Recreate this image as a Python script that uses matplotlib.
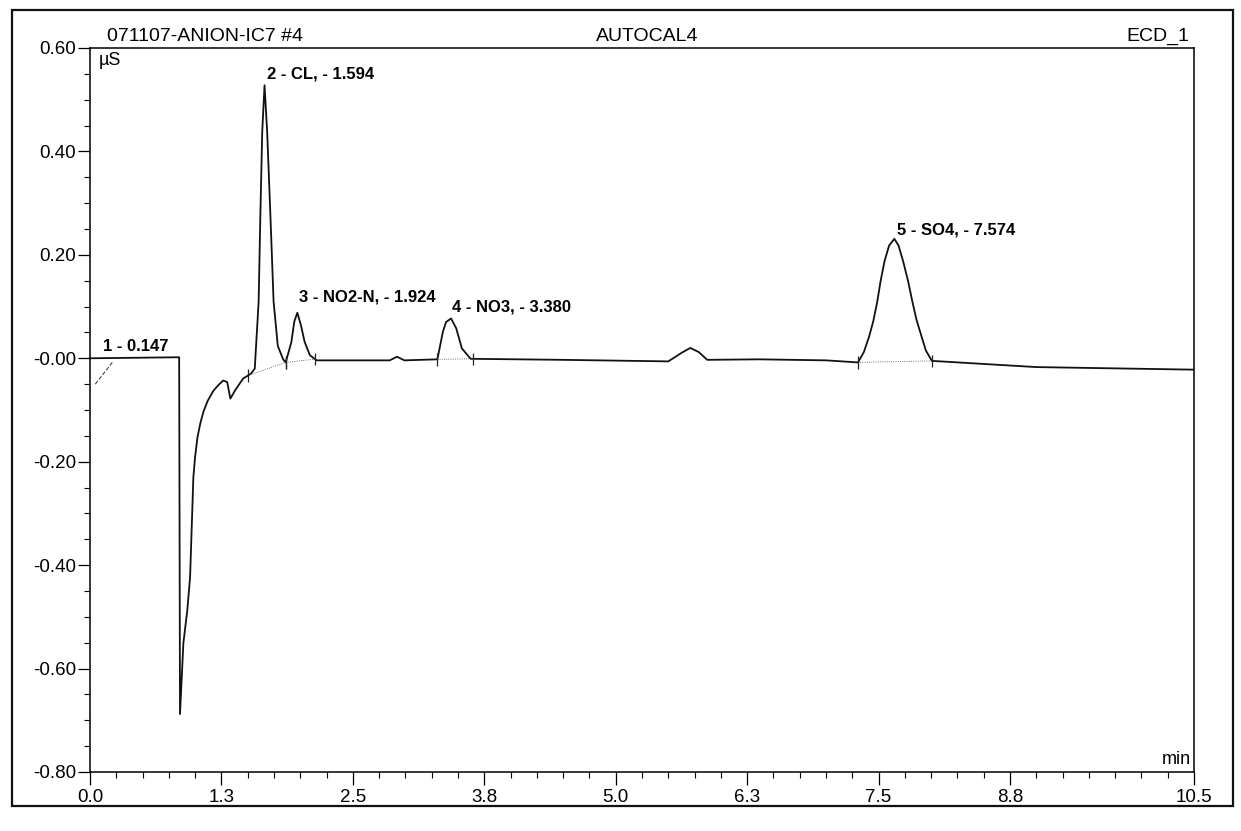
import numpy as np
import matplotlib
matplotlib.use("Agg")
from matplotlib import pyplot as plt
from matplotlib.patches import Rectangle
from matplotlib.ticker import FixedLocator, MultipleLocator

plt.rcParams['font.family'] = ['Liberation Sans', 'DejaVu Sans']

# chromatogram trace (min, µS)
time_min = [0.000, 0.848, 0.856, 0.888, 0.925, 0.952, 0.983, 1.000, 1.022, 1.050,
            1.081, 1.120, 1.173, 1.220, 1.267, 1.305, 1.335, 1.380, 1.457, 1.530,
            1.567, 1.604, 1.620, 1.638, 1.660, 1.685, 1.716, 1.746, 1.786, 1.837,
            1.861, 1.915, 1.943, 1.972, 2.005, 2.041, 2.091, 2.155, 2.600, 2.850,
            2.920, 2.990, 3.304, 3.356, 3.386, 3.434, 3.483, 3.537, 3.620, 4.500,
            5.500, 5.630, 5.710, 5.790, 5.870, 6.360, 7.000, 7.305, 7.360, 7.410,
            7.450, 7.486, 7.520, 7.557, 7.600, 7.650, 7.690, 7.733, 7.780, 7.821,
            7.860, 7.906, 7.950, 8.007, 9.000, 10.500]
signal_uS = [0.000, 0.002, -0.688, -0.551, -0.488, -0.423, -0.230, -0.190, -0.153, -0.125,
             -0.102, -0.082, -0.063, -0.052, -0.043, -0.046, -0.078, -0.062, -0.039, -0.030,
             -0.020, 0.110, 0.274, 0.438, 0.528, 0.438, 0.275, 0.110, 0.024, -0.002,
             -0.008, 0.031, 0.071, 0.088, 0.065, 0.032, 0.006, -0.004, -0.004, -0.004,
             0.003, -0.004, -0.002, 0.051, 0.070, 0.077, 0.058, 0.019, -0.001, -0.003,
             -0.006, 0.011, 0.020, 0.012, -0.003, -0.002, -0.004, -0.008, 0.012, 0.042,
             0.072, 0.108, 0.150, 0.188, 0.218, 0.231, 0.218, 0.188, 0.150, 0.110,
             0.075, 0.044, 0.015, -0.005, -0.017, -0.022]

# peak labels: apex time, apex height, text
peak_rt = [0.12, 1.660, 1.972, 3.434, 7.650]
peak_height = [0.000, 0.528, 0.088, 0.077, 0.231]
peak_text = ['1 - 0.147', '2 - CL, - 1.594', '3 - NO2-N, - 1.924',
             '4 - NO3, - 3.380', '5 - SO4, - 7.574']
label_offset = [(0, 3), (2, 3), (1, 6), (1, 3), (2, 1)]

# integration limits (start, end) of each peak
limit_start = [1.505, 1.861, 3.304, 7.305]
limit_end = [1.861, 2.140, 3.640, 8.007]
p1_base_t = [0.05, 0.22]
p1_base_s = [-0.050, -0.006]

xtick_pos = [0.0, 1.25, 2.5, 3.75, 5.0, 6.25, 7.5, 8.75, 10.5]
xtick_lab = ['0.0', '1.3', '2.5', '3.8', '5.0', '6.3', '7.5', '8.8', '10.5']
ytick_pos = [0.6, 0.4, 0.2, 0.0, -0.2, -0.4, -0.6, -0.8]
ytick_lab = ['0.60', '0.40', '0.20', '-0.00', '-0.20', '-0.40', '-0.60', '-0.80']

fig = plt.figure(figsize=(12.41, 8.31), dpi=100)
ax = fig.add_axes([90 / 1241, 1 - 772 / 831, 1104 / 1241, 724 / 831])

ax.plot(time_min, signal_uS, color='#111111', lw=1.3)

# peak delimiters and baselines
for a, b in zip(limit_start, limit_end):
    sa = np.interp(a, time_min, signal_uS)
    sb = np.interp(b, time_min, signal_uS)
    ax.plot([a, b], [sa, sb], color='#444444', lw=0.6, ls=':')
    ax.vlines([a, b], [sa - 0.012, sb - 0.012], [sa + 0.012, sb + 0.012],
              color='#222222', lw=0.9)
ax.plot(p1_base_t, p1_base_s, color='#444444', lw=0.8, ls='--')

for t, h, txt, off in zip(peak_rt, peak_height, peak_text, label_offset):
    ax.annotate(txt, (t, h), xytext=off, textcoords='offset points',
                ha='left', va='bottom', fontsize=12, fontweight='bold')

ax.set_xlim(0, 10.5)
ax.set_ylim(-0.8, 0.6)
ax.xaxis.set_major_locator(FixedLocator(xtick_pos))
ax.set_xticklabels(xtick_lab)
ax.xaxis.set_minor_locator(MultipleLocator(0.25))
ax.yaxis.set_major_locator(FixedLocator(ytick_pos))
ax.set_yticklabels(ytick_lab)
ax.yaxis.set_minor_locator(MultipleLocator(0.05))
ax.tick_params(axis='both', which='major', labelsize=13.5, direction='out',
               length=9, width=0.9)
ax.tick_params(axis='both', which='minor', direction='out', length=4, width=0.8)
ax.tick_params(axis='y', which='major', pad=1)
ax.tick_params(axis='x', which='major', pad=3)
for sp in ax.spines.values():
    sp.set_linewidth(1.1)

ax.text(0.008, 0.995, 'µS', transform=ax.transAxes, ha='left', va='top', fontsize=13)
ax.text(0.997, 0.005, 'min', transform=ax.transAxes, ha='right', va='bottom', fontsize=13)
ax.text(0.015, 1.004, '071107-ANION-IC7 #4', transform=ax.transAxes,
        ha='left', va='bottom', fontsize=14)
ax.text(0.505, 1.004, 'AUTOCAL4', transform=ax.transAxes,
        ha='center', va='bottom', fontsize=14)
ax.text(0.996, 1.004, 'ECD_1', transform=ax.transAxes,
        ha='right', va='bottom', fontsize=14)

# page frame of the printed report
fig.patches.append(Rectangle((12 / 1241, 1 - 806 / 831), 1221 / 1241, 796 / 831,
                             transform=fig.transFigure, fill=False,
                             edgecolor='#111111', lw=1.6))

fig.savefig('out.png', dpi=100)
